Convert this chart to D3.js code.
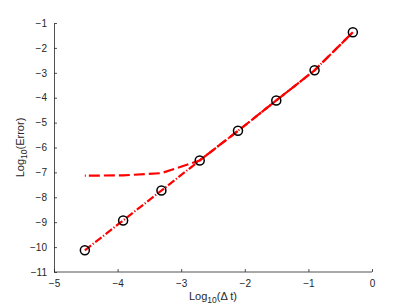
<!DOCTYPE html>
<html>
<head>
<meta charset="utf-8">
<script src="https://cdn.jsdelivr.net/npm/d3@7"></script>
<style>
  body { margin: 0; background: #fff; }
  svg { display: block; }
  text { font-family: "Liberation Sans", Arial, sans-serif; fill: #262626; }
</style>
</head>
<body>
<div id="chart"></div>
<script>
// log10 of the time steps
var logDt = [-4.515, -3.913, -3.311, -2.709, -2.107, -1.505, -0.903, -0.301];
// dash-dot series (with markers)
var errA = [-10.13, -8.93, -7.73, -6.52, -5.33, -4.11, -2.90, -1.37];
// dashed series (levels off at small steps)
var errB = [-7.13, -7.12, -7.03, -6.52, -5.33, -4.11, -2.90, -1.37];
var xTicks = [-5, -4, -3, -2, -1, 0];
var yTicks = [-11, -10, -9, -8, -7, -6, -5, -4, -3, -2, -1];

var W = 411, H = 308;
var margin = {top: 23, right: 39, bottom: 36, left: 54},
    width = W - margin.left - margin.right,
    height = H - margin.top - margin.bottom;

var svg = d3.select("#chart").append("svg")
    .attr("width", W)
    .attr("height", H)
  .append("g")
    .attr("transform", "translate(" + margin.left + "," + margin.top + ")");

var x = d3.scaleLinear().domain([-5, 0]).range([0, width]);
var y = d3.scaleLinear().domain([-11, -1]).range([height, 0]);

// axes, MATLAB style ticks pointing inward
var xAxis = d3.axisBottom(x).tickValues(xTicks).tickSize(-3).tickPadding(8).tickFormat(d3.format("d"));
var yAxis = d3.axisLeft(y).tickValues(yTicks).tickSize(-3).tickPadding(7).tickFormat(d3.format("d"));

var gx = svg.append("g")
    .attr("transform", "translate(0," + height + ")")
    .call(xAxis);
var gy = svg.append("g").call(yAxis);

[gx, gy].forEach(function(g) {
  g.select(".domain").attr("stroke", "#262626").attr("stroke-width", 0.8);
  g.selectAll(".tick line").attr("stroke", "#262626").attr("stroke-width", 0.8);
  g.selectAll(".tick text")
    .style("font-family", "Liberation Sans, Arial, sans-serif")
    .style("font-size", "10px")
    .attr("fill", "#262626");
});
gx.select(".domain").attr("d", "M0.5,0H" + width);
gy.select(".domain").attr("d", "M0.5," + height + "V0.5");

var line = d3.line()
    .x(function(d, i) { return x(logDt[i]); })
    .y(function(d) { return y(d); });

svg.append("path")
    .datum(errB)
    .attr("d", line)
    .attr("fill", "none")
    .attr("stroke", "#ff0000")
    .attr("stroke-width", 2.2)
    .attr("stroke-dasharray", "1,3,11,4,11,4,11,4,11,4,11,4,11,4,11,4,11,4,11,4,11,4,11,4,11,4,11,4,11,4,11,4,11,4,11,4,11,4,11,4,11,4,11,4,11,4,11,4,11,4,11,4,11,4,11,4,11,4");

svg.append("path")
    .datum(errA)
    .attr("d", line)
    .attr("fill", "none")
    .attr("stroke", "#ff0000")
    .attr("stroke-width", 2.2)
    .attr("stroke-dasharray", "8,2,1.2,2");

svg.selectAll("circle.pt")
    .data(errA)
  .enter().append("circle")
    .attr("class", "pt")
    .attr("cx", function(d, i) { return x(logDt[i]); })
    .attr("cy", function(d) { return y(d); })
    .attr("r", 4.5)
    .attr("fill", "none")
    .attr("stroke", "#000")
    .attr("stroke-width", 1.5);

// axis labels
var xl = svg.append("text")
    .attr("x", width / 2)
    .attr("y", height + 28)
    .attr("text-anchor", "middle")
    .style("font-size", "11px");
xl.append("tspan").text("Log");
xl.append("tspan").attr("dy", 3).style("font-size", "8.5px").text("10");
xl.append("tspan").attr("dy", -3).text("(\u0394 t)");

var yl = svg.append("text")
    .attr("transform", "translate(-30," + (height / 2) + ") rotate(-90)")
    .attr("text-anchor", "middle")
    .style("font-size", "11px");
yl.append("tspan").text("Log");
yl.append("tspan").attr("dy", 3).style("font-size", "8.5px").text("10");
yl.append("tspan").attr("dy", -3).text("(Error)");
</script>
</body>
</html>
